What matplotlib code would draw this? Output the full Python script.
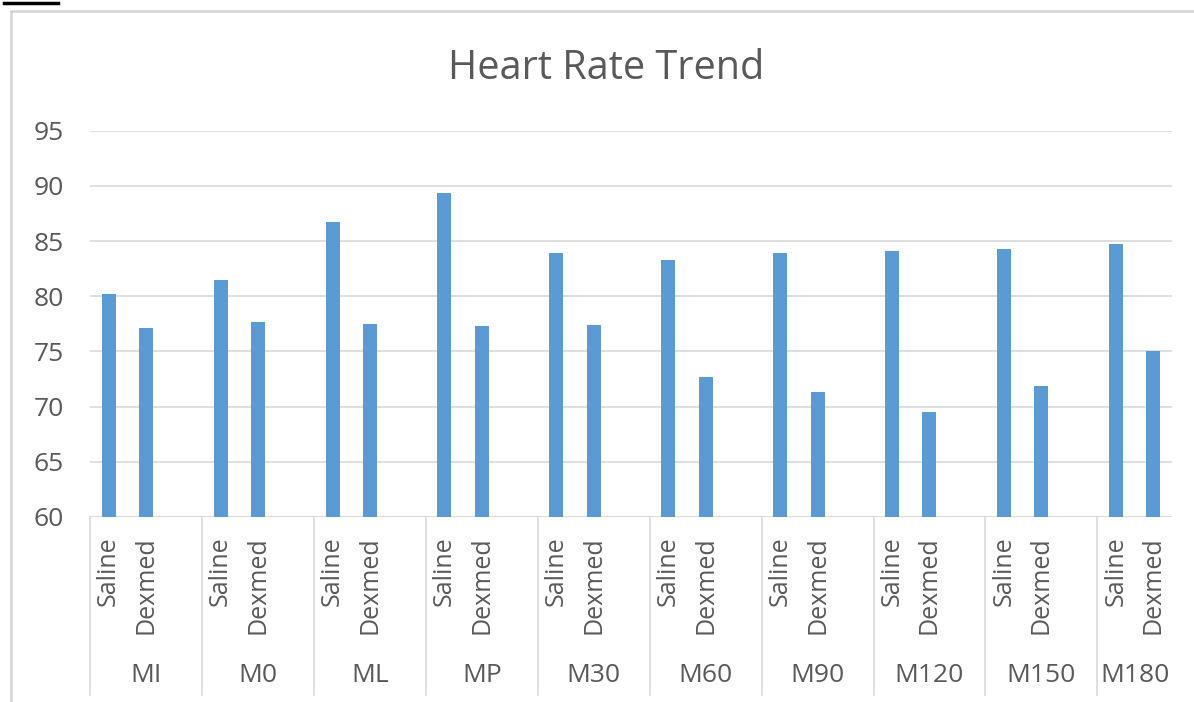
import matplotlib
matplotlib.use("Agg")
import matplotlib.pyplot as plt
import matplotlib.transforms as mtransforms
from matplotlib.patches import Rectangle
from matplotlib.lines import Line2D

groups = ["MI", "M0", "ML", "MP", "M30", "M60", "M90", "M120", "M150", "M180"]
subgroups = ["Saline", "Dexmed"]
saline = [80.2, 81.5, 86.7, 89.4, 83.9, 83.3, 83.9, 84.1, 84.3, 84.7]
dexmed = [77.1, 77.7, 77.5, 77.3, 77.4, 72.7, 71.3, 69.5, 71.9, 75.0]
yticks = [60, 65, 70, 75, 80, 85, 90, 95]
title = "Heart Rate Trend"

plt.rcParams['font.family'] = ['Open Sans', 'DejaVu Sans']
W, H = 1194, 702
fig = plt.figure(figsize=(W / 100, H / 100), dpi=100)

# chart frame
fig.patches.append(Rectangle((11 / W, -0.05), 1.1, 1 - 11 / H + 0.05, transform=fig.transFigure,
                             facecolor='none', edgecolor='#D4D4D4', lw=1.8, zorder=-10))
fig.lines.append(Line2D([4 / W, 58 / W], [1 - 3 / H, 1 - 3 / H], transform=fig.transFigure,
                        color='black', lw=2.5, zorder=-10))

left, right = 90 / W, 1172 / W
bottom, top = 1 - 517 / H, 1 - 130.7 / H
ax = fig.add_axes([left, bottom, right - left, top - bottom])
ax.set_facecolor('none')

n_slots = 3 * len(groups) - 1
xs_s = [3 * i for i in range(len(groups))]
xs_d = [3 * i + 1 for i in range(len(groups))]
bar_color = '#5B9BD5'
bw = 0.375
ax.bar(xs_s, [v - 60 for v in saline], bottom=60, width=bw, color=bar_color, zorder=3)
ax.bar(xs_d, [v - 60 for v in dexmed], bottom=60, width=bw, color=bar_color, zorder=3)

ax.set_xlim(-0.5, n_slots - 0.5)
ax.set_ylim(60, 95)
ax.set_yticks(yticks)
ax.set_yticklabels([str(t) for t in yticks])
ax.tick_params(axis='y', length=0, pad=19, labelsize=19, labelcolor='#595959')
ax.set_xticks([])
for s in ax.spines.values():
    s.set_visible(False)
ax.grid(axis='y', color='#D9D9D9', lw=1.2, zorder=0)
ax.axhline(60, color='#D9D9D9', lw=1.2, zorder=1)

fig.text(606 / W, 1 - 79 / H, title, fontsize=28.5, color='#595959', ha='center', va='baseline')

trans = mtransforms.blended_transform_factory(ax.transData, ax.transAxes)
ax_h = 517 - 130.7
y_bot = -(695 - 517) / ax_h
for i in range(len(groups)):
    xsep = 3 * i - 0.5
    ax.plot([xsep, xsep], [0, y_bot], transform=trans, color='#D9D9D9', lw=1.2, clip_on=False)
sub_y = -(536 - 517) / ax_h
grp_y = -(675 - 517) / ax_h
for i, g in enumerate(groups):
    for j, sg in enumerate(subgroups):
        ax.text(3 * i + j, sub_y, sg, transform=trans, rotation=90, ha='center', va='top',
                fontsize=18, color='#595959')
    if i < len(groups) - 1:
        cx = 3 * i + 1
    else:
        cx = 3 * i + 0.5
    ax.text(cx, grp_y, g, transform=trans, ha='center', va='center', fontsize=19, color='#595959')

fig.savefig("out.png", dpi=100)
